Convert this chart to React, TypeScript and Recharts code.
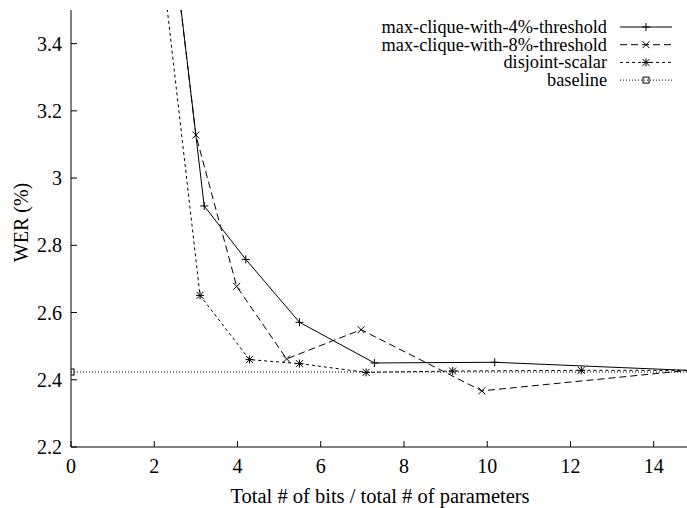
import { LineChart, Line, XAxis, YAxis } from 'recharts';

const FONT = '"Liberation Serif", "Times New Roman", "DejaVu Serif", serif';

const xTicks = [0, 2, 4, 6, 8, 10, 12, 14];
const yTicks = [2.2, 2.4, 2.6, 2.8, 3.0, 3.2, 3.4];

const seriesNames = [
  'max-clique-with-4%-threshold',
  'max-clique-with-8%-threshold',
  'disjoint-scalar',
  'baseline',
];

// bits per parameter (x) and WER % (y)
const clique4X = [2.2, 3.2, 4.2, 5.49, 7.29, 10.18, 15];
const clique4Y = [3.97, 2.917, 2.758, 2.571, 2.45, 2.452, 2.427];
const clique8X = [2.2, 3.0, 3.98, 5.18, 6.97, 9.87, 15];
const clique8Y = [3.96, 3.128, 2.678, 2.462, 2.549, 2.367, 2.43];
const disjointX = [2.0, 3.1, 4.29, 5.49, 7.09, 9.17, 12.26, 15];
const disjointY = [3.84, 2.651, 2.46, 2.448, 2.422, 2.426, 2.428, 2.428];
const baselineX = [0, 15];
const baselineY = [2.423, 2.423];

const toPoints = (xs: number[], ys: number[]) => xs.map((x, i) => ({ x, y: ys[i] }));

const fmtY = (v: number) => (v === 3 ? '3' : v.toFixed(1));

const txt = { fontFamily: FONT, fill: '#000' };

type MarkKind = 'plus' | 'cross' | 'star' | 'square';

function Mark({ cx, cy, kind }: { cx: number; cy: number; kind: MarkKind }) {
  const s = 4;
  const d = 3.5;
  return (
    <g stroke="#000" strokeWidth={1} fill="none">
      {(kind === 'plus' || kind === 'star') && (
        <>
          <line x1={cx - s} y1={cy} x2={cx + s} y2={cy} />
          <line x1={cx} y1={cy - s} x2={cx} y2={cy + s} />
        </>
      )}
      {(kind === 'cross' || kind === 'star') && (
        <>
          <line x1={cx - d} y1={cy - d} x2={cx + d} y2={cy + d} />
          <line x1={cx - d} y1={cy + d} x2={cx + d} y2={cy - d} />
        </>
      )}
      {kind === 'square' && <rect x={cx - 3} y={cy - 3} width={6} height={6} />}
    </g>
  );
}

const dotFor = (kind: MarkKind, onlyFirst = false) => (props: any) => {
  const { cx, cy, index } = props;
  if (cx == null || cy == null || (onlyFirst && index !== 0)) return <g key={`d-${kind}-${index}`} />;
  return (
    <g key={`d-${kind}-${index}`}>
      <Mark cx={cx} cy={cy} kind={kind} />
    </g>
  );
};

const series = [
  { name: seriesNames[0], data: toPoints(clique4X, clique4Y), dash: undefined, kind: 'plus' as MarkKind, onlyFirst: false },
  { name: seriesNames[1], data: toPoints(clique8X, clique8Y), dash: '7 4', kind: 'cross' as MarkKind, onlyFirst: false },
  { name: seriesNames[2], data: toPoints(disjointX, disjointY), dash: '3 3', kind: 'star' as MarkKind, onlyFirst: false },
  { name: seriesNames[3], data: toPoints(baselineX, baselineY), dash: '1 2', kind: 'square' as MarkKind, onlyFirst: true },
];

const BottomTick = ({ x, y, payload }: any) => (
  <g>
    <line x1={x} y1={y} x2={x} y2={y - 6} stroke="#000" />
    <text x={x} y={y + 19} textAnchor="middle" dominantBaseline="central" style={{ ...txt, fontSize: 20 }}>
      {payload.value}
    </text>
  </g>
);

const TopTick = ({ x, y }: any) => <line x1={x} y1={y} x2={x} y2={y + 6} stroke="#000" />;

const LeftTick = ({ x, y, payload }: any) => (
  <g>
    <line x1={x} y1={y} x2={x + 6} y2={y} stroke="#000" />
    <text x={x - 9} y={y} textAnchor="end" dominantBaseline="central" style={{ ...txt, fontSize: 20 }}>
      {fmtY(payload.value)}
    </text>
  </g>
);

const YTitle = (props: any) => {
  const vb = props.viewBox || { x: 0, y: 10, width: 71, height: 437 };
  const cx = vb.x + 21;
  const cy = vb.y + vb.height / 2 - 6;
  return (
    <text x={cx} y={cy} transform={`rotate(-90 ${cx} ${cy})`} textAnchor="middle" dominantBaseline="central" style={{ ...txt, fontSize: 20 }}>
      WER (%)
    </text>
  );
};

const XTitle = (props: any) => {
  const vb = props.viewBox || { x: 71, y: 447, width: 616, height: 61 };
  const cx = vb.x + vb.width / 2 + 1;
  return (
    <text x={cx} y={vb.y + 56} textAnchor="middle" style={{ ...txt, fontSize: 20.5 }}>
      Total # of bits / total # of parameters
    </text>
  );
};

function KeyBox() {
  return (
    <svg width={687} height={100} style={{ position: 'absolute', left: 0, top: 0, pointerEvents: 'none' }}>
      {series.map((s, i) => {
        const y = 27 + i * 17.7;
        return (
          <g key={s.name}>
            <text x={607} y={y} textAnchor="end" dominantBaseline="central" style={{ ...txt, fontSize: 18.3 }}>
              {s.name}
            </text>
            <line x1={620} y1={y} x2={672} y2={y} stroke="#000" strokeDasharray={s.dash} />
            <Mark cx={646} cy={y} kind={s.kind} />
          </g>
        );
      })}
    </svg>
  );
}

export default function App() {
  return (
    <div style={{ position: 'absolute', left: 0, top: 0, width: 687, height: 508, background: '#fff', fontFamily: FONT }}>
      <LineChart width={687} height={508} margin={{ top: 10, right: 0, bottom: 0, left: 0 }}>
        <XAxis
          xAxisId="b"
          type="number"
          dataKey="x"
          domain={[0, 14.8]}
          ticks={xTicks}
          allowDataOverflow
          height={61}
          tickSize={0}
          tickMargin={0}
          tickLine={false}
          axisLine={{ stroke: '#000' }}
          tick={<BottomTick />}
          label={{ content: XTitle }}
        />
        <XAxis
          xAxisId="t"
          orientation="top"
          type="number"
          dataKey="x"
          domain={[0, 14.8]}
          ticks={xTicks.slice(1)}
          allowDataOverflow
          height={0}
          tickSize={0}
          tickMargin={0}
          tickLine={false}
          axisLine={{ stroke: '#000' }}
          tick={<TopTick />}
        />
        <YAxis
          yAxisId="l"
          type="number"
          domain={[2.2, 3.5]}
          ticks={yTicks}
          allowDataOverflow
          width={71}
          tickSize={0}
          tickMargin={0}
          tickLine={false}
          axisLine={{ stroke: '#000' }}
          tick={<LeftTick />}
          label={{ content: YTitle }}
        />
        {series.map((s) => (
          <Line
            key={s.name}
            xAxisId="b"
            yAxisId="l"
            data={s.data}
            dataKey="y"
            name={s.name}
            type="linear"
            stroke="#000"
            strokeWidth={1}
            strokeDasharray={s.dash}
            dot={dotFor(s.kind, s.onlyFirst)}
            activeDot={false}
            isAnimationActive={false}
          />
        ))}
      </LineChart>
      <KeyBox />
    </div>
  );
}
